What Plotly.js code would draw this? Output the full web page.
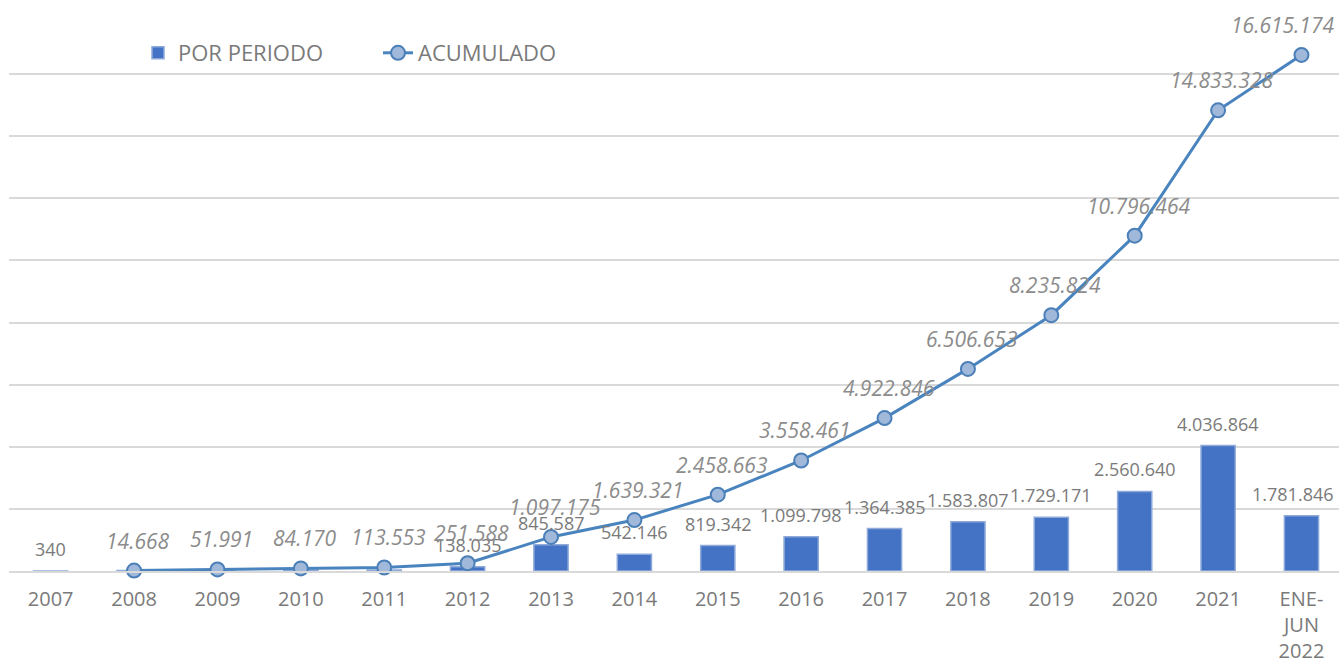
<!DOCTYPE html>
<html>
<head>
<meta charset="utf-8">
<script src="https://cdn.plot.ly/plotly-3.0.1.min.js"></script>
<style>
  html, body { margin: 0; padding: 0; background: #fff; }
  #chart { width: 1339px; height: 660px; }
</style>
</head>
<body>
<div id="chart"></div>
<script>
// Categories (x axis)
const periods = ['2007', '2008', '2009', '2010', '2011', '2012', '2013', '2014', '2015',
                 '2016', '2017', '2018', '2019', '2020', '2021', 'ENE-<br>JUN<br>2022'];

// POR PERIODO (bars)
const porPeriodo = [340, 14328, 37323, 32179, 29383, 138035, 845587, 542146, 819342,
                    1099798, 1364385, 1583807, 1729171, 2560640, 4036864, 1781846];
// bar labels shown in the picture (small years have none)
const showBarLabel = [true, false, false, false, false, true, true, true, true,
                      true, true, true, true, true, true, true];

// ACUMULADO (line), starts at 2008
const acumPeriods = periods.slice(1);
const acumulado = [14668, 51991, 84170, 113553, 251588, 1097175, 1639321, 2458663,
                   3558461, 4922846, 6506653, 8235824, 10796464, 14833328, 16615174];

function fmt(n) {
    return n.toString().replace(/\B(?=(\d{3})+(?!\d))/g, '.');
}

const barTrace = {
    type: 'bar',
    name: 'POR PERIODO',
    x: periods,
    y: porPeriodo,
    width: 0.41,
    marker: {color: '#4472c4', line: {color: '#8eaadb', width: 1.5}},
    hoverinfo: 'x+y'
};

const lineTrace = {
    type: 'scatter',
    mode: 'lines+markers',
    name: 'ACUMULADO',
    x: acumPeriods,
    y: acumulado,
    line: {color: '#4a84bf', width: 3},
    marker: {size: 14, color: '#a0b8da', line: {color: '#4a7fb8', width: 2}},
    cliponaxis: false
};

const last = periods.length - 1;

// bar labels (category index used as x, since the names look like numbers)
const barLabels = [];
porPeriodo.forEach((v, i) => {
    if (!showBarLabel[i]) return;
    barLabels.push({
        x: i, y: v, xref: 'x', yref: 'y',
        text: fmt(v),
        showarrow: false,
        yshift: 22,
        xshift: i === last ? -8 : 0,
        font: {color: '#7a7a7a', size: 18}
    });
});

// italic labels for the accumulated line
const lineLabels = acumulado.map((v, i) => ({
    x: periods.indexOf(acumPeriods[i]), y: v, xref: 'x', yref: 'y',
    text: '<i>' + fmt(v) + '</i>',
    showarrow: false,
    yshift: 30,
    xshift: i === acumulado.length - 1 ? -18 : 4,
    font: {color: '#8c8c8c', size: 21}
}));

const layout = {
    width: 1339,
    height: 660,
    margin: {l: 9, r: 0, t: 11, b: 89},
    paper_bgcolor: '#ffffff',
    plot_bgcolor: '#ffffff',
    font: {family: 'Open Sans, sans-serif', color: '#7a7a7a'},
    showlegend: true,
    legend: {
        orientation: 'h',
        x: 0.097, xanchor: 'left',
        y: 0.925, yanchor: 'middle',
        bgcolor: 'rgba(0,0,0,0)',
        font: {size: 22, color: '#7a7a7a'},
        traceorder: 'normal',
        entrywidth: 195,
        entrywidthmode: 'pixels'
    },
    xaxis: {
        type: 'category',
        range: [-0.5, 15.45],
        showgrid: false,
        showline: true,
        linecolor: '#d9d9d9',
        linewidth: 2,
        ticks: '',
        tickfont: {size: 20, color: '#7a7a7a'},
        ticklabelstandoff: 9
    },
    yaxis: {
        range: [0, 18030000],
        dtick: 2000000,
        showticklabels: false,
        gridcolor: '#d9d9d9',
        gridwidth: 2,
        zeroline: false,
        fixedrange: true
    },
    annotations: barLabels.concat(lineLabels)
};

Plotly.newPlot('chart', [barTrace, lineTrace], layout, {displayModeBar: false, staticPlot: true});
</script>
</body>
</html>
